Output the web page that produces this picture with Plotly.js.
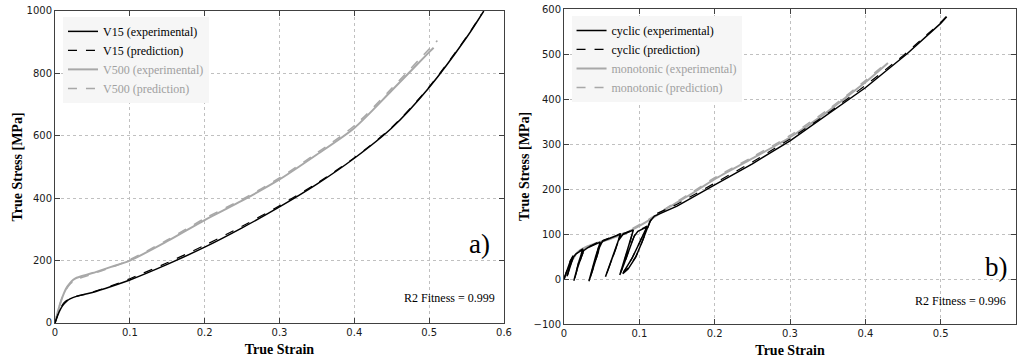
<!DOCTYPE html>
<html>
<head>
<meta charset="utf-8">
<script src="https://cdn.plot.ly/plotly-3.0.1.min.js"></script>
<style>html,body{margin:0;padding:0;background:#fff;}#chart{width:1023px;height:363px;}</style>
</head>
<body>
<div id="chart"></div>
<script>
// ---------- Panel a) ----------
const v15ExpStrain  = [0, 0.003, 0.006, 0.01, 0.015, 0.02, 0.03, 0.04, 0.05, 0.075, 0.1, 0.15, 0.2, 0.25, 0.3, 0.35, 0.4, 0.45, 0.5, 0.55, 0.573];
const v15ExpStress  = [0, 20, 38, 55, 68, 77, 86, 92, 98, 117, 138, 188, 243, 305, 372, 445, 528, 625, 755, 915, 1000];
const v15PredStrain = [0, 0.004, 0.008, 0.012, 0.018, 0.025, 0.035, 0.05, 0.075, 0.1, 0.15, 0.2, 0.25, 0.3, 0.35, 0.4, 0.45, 0.5, 0.55, 0.57];
const v15PredStress = [0, 28, 50, 65, 76, 83, 89, 99, 119, 142, 193, 249, 310, 376, 448, 530, 627, 757, 917, 990];
const v500ExpStrain  = [0, 0.004, 0.008, 0.012, 0.016, 0.02, 0.024, 0.029, 0.035, 0.05, 0.075, 0.1, 0.15, 0.2, 0.25, 0.3, 0.35, 0.4, 0.45, 0.5, 0.506];
const v500ExpStress  = [0, 38, 70, 96, 115, 128, 138, 145, 150, 160, 180, 200, 262, 330, 392, 460, 540, 625, 745, 868, 882];
const v500PredStrain = [0, 0.005, 0.01, 0.015, 0.02, 0.025, 0.03, 0.04, 0.05, 0.075, 0.1, 0.15, 0.2, 0.25, 0.3, 0.35, 0.4, 0.45, 0.5, 0.511];
const v500PredStress = [0, 48, 85, 108, 124, 134, 141, 149, 157, 178, 203, 266, 335, 396, 465, 545, 632, 752, 878, 905];

// ---------- Panel b) ----------
const cycExpStrain = [0, 0.004, 0.008, 0.012, 0.008, 0.004, 0.008, 0.012, 0.016, 0.02, 0.025, 0.02, 0.015, 0.013, 0.017, 0.022, 0.026, 0.032, 0.04, 0.048, 0.042, 0.037, 0.033, 0.037, 0.042, 0.047, 0.051, 0.06, 0.068, 0.075, 0.068, 0.061, 0.055, 0.06, 0.066, 0.072, 0.078, 0.085, 0.092, 0.086, 0.079, 0.074, 0.08, 0.087, 0.093, 0.098, 0.104, 0.11, 0.1, 0.09, 0.08, 0.078, 0.085, 0.095, 0.103, 0.109, 0.114, 0.12, 0.15, 0.2, 0.25, 0.3, 0.35, 0.379, 0.4, 0.455, 0.5, 0.508];
const cycExpStress = [0, 20, 38, 50, 30, 6, 30, 48, 56, 61, 66, 40, 12, -4, 20, 45, 63, 70, 76, 82, 50, 20, -5, 15, 42, 70, 84, 90, 96, 100, 65, 30, 5, 25, 55, 85, 99, 104, 109, 75, 35, 9, 35, 70, 95, 106, 111, 116, 80, 45, 18, 12, 22, 48, 80, 108, 128, 140, 162, 209, 256, 307, 365, 400, 425, 500, 568, 583];
const cycPredStrain = [0, 0.004, 0.008, 0.012, 0.008, 0.005, 0.009, 0.013, 0.017, 0.021, 0.025, 0.02, 0.016, 0.014, 0.018, 0.023, 0.027, 0.033, 0.041, 0.048, 0.043, 0.038, 0.034, 0.038, 0.043, 0.048, 0.052, 0.061, 0.069, 0.075, 0.069, 0.062, 0.056, 0.061, 0.067, 0.073, 0.079, 0.086, 0.092, 0.087, 0.08, 0.075, 0.081, 0.088, 0.094, 0.099, 0.105, 0.11, 0.101, 0.091, 0.082, 0.079, 0.086, 0.096, 0.104, 0.11, 0.115, 0.12, 0.15, 0.2, 0.25, 0.3, 0.35, 0.4, 0.45, 0.5, 0.51];
const cycPredStress = [0, 22, 40, 52, 32, 10, 34, 51, 58, 63, 67, 42, 15, 0, 24, 48, 66, 72, 78, 84, 53, 24, 0, 20, 46, 74, 86, 92, 97, 101, 68, 34, 9, 29, 58, 88, 101, 106, 110, 78, 39, 14, 38, 74, 98, 108, 113, 118, 84, 49, 22, 16, 26, 52, 84, 111, 130, 143, 166, 213, 260, 311, 368, 430, 496, 570, 588];
const monExpStrain = [0, 0.004, 0.008, 0.012, 0.016, 0.021, 0.03, 0.04, 0.061, 0.08, 0.1, 0.12, 0.14, 0.17, 0.2, 0.25, 0.3, 0.35, 0.37, 0.4, 0.43];
const monExpStress = [0, 15, 32, 45, 56, 64, 72, 78, 89, 101, 118, 138, 160, 190, 222, 268, 315, 372, 398, 437, 480];
const monPredStrain = [0, 0.005, 0.01, 0.015, 0.02, 0.03, 0.045, 0.061, 0.08, 0.1, 0.12, 0.14, 0.17, 0.2, 0.25, 0.3, 0.35, 0.4, 0.425];
const monPredStress = [0, 22, 40, 52, 61, 70, 80, 90, 103, 121, 140, 162, 193, 225, 271, 319, 376, 441, 476];

const xTickVals = [0, 0.1, 0.2, 0.3, 0.4, 0.5, 0.6];
const xTickText = ['0', '0.1', '0.2', '0.3', '0.4', '0.5', '0.6'];
const yTickValsA = [0, 200, 400, 600, 800, 1000];
const yTickValsB = [-100, 0, 100, 200, 300, 400, 500, 600];

const BLACK = '#000000';
const GRAY = '#a8a8a8';
const GRAYTXT = '#a0a0a0';

function tr(x, y, xa, ya, color, dash, name, legend, width, rank, shape) {
  return {x: x, y: y, xaxis: xa, yaxis: ya, type: 'scatter', mode: 'lines', name: name,
    legend: legend, legendrank: rank,
    line: {color: color, width: width, dash: dash, shape: shape, smoothing: 0.8}, hoverinfo: 'skip'};
}

const data = [
  tr(v500ExpStrain, v500ExpStress, 'x', 'y', GRAY, 'solid', '<span style="color:' + GRAYTXT + '">V500 (experimental)</span>', 'legend', 2, 3, 'spline'),
  tr(v500PredStrain, v500PredStress, 'x', 'y', GRAY, 'dash', '<span style="color:' + GRAYTXT + '">V500 (prediction)</span>', 'legend', 1.5, 4, 'spline'),
  tr(v15ExpStrain, v15ExpStress, 'x', 'y', BLACK, 'solid', 'V15 (experimental)', 'legend', 1.5, 1, 'spline'),
  tr(v15PredStrain, v15PredStress, 'x', 'y', BLACK, 'dash', 'V15 (prediction)', 'legend', 1.2, 2, 'spline'),
  tr(monExpStrain, monExpStress, 'x2', 'y2', GRAY, 'solid', '<span style="color:' + GRAYTXT + '">monotonic (experimental)</span>', 'legend2', 2, 3, 'spline'),
  tr(monPredStrain, monPredStress, 'x2', 'y2', GRAY, 'dash', '<span style="color:' + GRAYTXT + '">monotonic (prediction)</span>', 'legend2', 1.5, 4, 'spline'),
  tr(cycExpStrain, cycExpStress, 'x2', 'y2', BLACK, 'solid', 'cyclic (experimental)', 'legend2', 1.5, 1, 'linear'),
  tr(cycPredStrain, cycPredStress, 'x2', 'y2', BLACK, 'dash', 'cyclic (prediction)', 'legend2', 1.2, 2, 'linear')
];

const tickFont = {family: 'DejaVu Sans, Verdana, sans-serif', size: 10, color: '#1a1a1a'};
const titleFont = {family: 'Liberation Serif, Times New Roman, serif', size: 14, color: '#000'};

function xaxisCfg(domain, anchor) {
  return {domain: domain, anchor: anchor, range: [0, 0.6], tickvals: xTickVals, ticktext: xTickText,
    ticks: 'inside', ticklen: 5, tickcolor: '#404040', mirror: 'ticks', showline: true, linecolor: '#404040', linewidth: 1,
    showgrid: true, gridcolor: '#c0c0c0', griddash: 'dot', gridwidth: 1, zeroline: false,
    tickfont: tickFont, automargin: false,
    title: {text: '<b>True Strain</b>', font: titleFont, standoff: 7}};
}
function yaxisCfg(domain, anchor, range, vals, standoff) {
  return {domain: domain, anchor: anchor, range: range, tickvals: vals,
    ticks: 'inside', ticklen: 5, tickcolor: '#404040', mirror: 'ticks', showline: true, linecolor: '#404040', linewidth: 1,
    showgrid: true, gridcolor: '#c0c0c0', griddash: 'dot', gridwidth: 1, zeroline: false,
    tickfont: tickFont, automargin: false,
    title: {text: '<b>True Stress [MPa]</b>', font: titleFont, standoff: standoff}};
}

const legendFont = {family: 'Liberation Serif, Times New Roman, serif', size: 12, color: '#000'};

const layout = {
  width: 1023, height: 363,
  margin: {l: 55, r: 7, t: 9, b: 39},
  paper_bgcolor: '#ffffff', plot_bgcolor: '#ffffff',
  showlegend: true,
  xaxis: xaxisCfg([0, 0.4672], 'y'),
  yaxis: yaxisCfg([0.0032, 0.9937], 'x', [0, 1000], yTickValsA, 0),
  xaxis2: xaxisCfg([0.5297, 1], 'y2'),
  yaxis2: yaxisCfg([0, 1], 'x2', [-100, 600], yTickValsB, 0),
  legend: {x: 0.0083, y: 0.975, xref: 'paper', yref: 'paper', xanchor: 'left', yanchor: 'top',
    bgcolor: '#f6f6f6', borderwidth: 0, font: legendFont, traceorder: 'normal', itemwidth: 30,
    tracegroupgap: 0},
  legend2: {x: 0.5375, y: 0.978, xref: 'paper', yref: 'paper', xanchor: 'left', yanchor: 'top',
    bgcolor: '#f6f6f6', borderwidth: 0, font: legendFont, traceorder: 'normal', itemwidth: 30,
    tracegroupgap: 0},
  annotations: [
    {xref: 'x', yref: 'y', x: 0.567, y: 252, text: 'a)', showarrow: false, xanchor: 'center', yanchor: 'middle',
      font: {family: 'Liberation Serif, Times New Roman, serif', size: 27, color: '#000'}},
    {xref: 'x', yref: 'y', x: 0.591, y: 80, text: 'R2 Fitness = 0.999', showarrow: false, xanchor: 'right', yanchor: 'middle',
      font: {family: 'Liberation Serif, Times New Roman, serif', size: 12, color: '#000'}},
    {xref: 'x2', yref: 'y2', x: 0.574, y: 27, text: 'b)', showarrow: false, xanchor: 'center', yanchor: 'middle',
      font: {family: 'Liberation Serif, Times New Roman, serif', size: 27, color: '#000'}},
    {xref: 'x2', yref: 'y2', x: 0.589, y: -49, text: 'R2 Fitness = 0.996', showarrow: false, xanchor: 'right', yanchor: 'middle',
      font: {family: 'Liberation Serif, Times New Roman, serif', size: 12, color: '#000'}}
  ]
};

Plotly.newPlot('chart', data, layout, {displayModeBar: false, staticPlot: true});
</script>
</body>
</html>
